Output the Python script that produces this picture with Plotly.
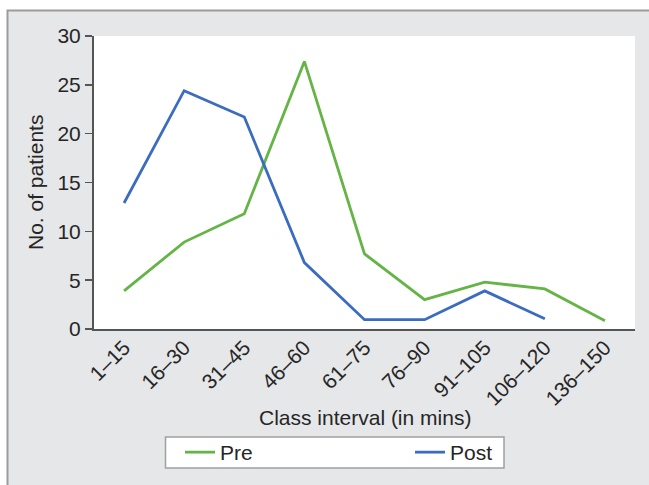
import plotly.graph_objects as go

categories = ["1–15", "16–30", "31–45", "46–60", "61–75", "76–90", "91–105", "106–120", "136–150"]
pre = [3.9, 8.9, 11.8, 27.4, 7.7, 3.0, 4.8, 4.1, 0.85]
post = [12.9, 24.4, 21.7, 6.8, 0.95, 0.95, 3.9, 1.05, None]

FONT = "Liberation Sans, Arial, sans-serif"
TXT = "#262626"
FS = 21

fig = go.Figure()
fig.add_trace(go.Scatter(x=categories, y=pre, mode="lines", name="Pre",
                         line=dict(color="#64b446", width=2.8), legend="legend"))
fig.add_trace(go.Scatter(x=categories, y=post, mode="lines", name="Post",
                         line=dict(color="#3a6cbf", width=2.8), legend="legend2"))

W, H = 649, 485
L, R, T, B = 94, 14, 36, 156
pw, ph = W - L - R, H - T - B

def px_x(p):
    return (p - L) / pw

def px_y(p):
    return (H - B - p) / ph

# outer grey frame
fig.add_shape(type="rect", xref="paper", yref="paper",
              x0=px_x(7.5), x1=px_x(660), y0=px_y(10.5), y1=px_y(500),
              fillcolor="#e6e7e9", line=dict(color="#9c9c9c", width=2), layer="below")
# white plot area
fig.add_shape(type="rect", xref="paper", yref="paper",
              x0=0, x1=1, y0=0, y1=1,
              fillcolor="white", line=dict(width=0), layer="below")
# legend box
fig.add_shape(type="rect", xref="paper", yref="paper",
              x0=px_x(165.5), x1=px_x(504), y0=px_y(437), y1=px_y(468),
              fillcolor="white", line=dict(color="#a0a0a0", width=1.5), layer="above")

leg_common = dict(orientation="h", yanchor="middle", xanchor="left",
                  bgcolor="rgba(0,0,0,0)", borderwidth=0,
                  font=dict(family=FONT, size=FS, color=TXT), itemclick=False,
                  itemdoubleclick=False)

fig.add_annotation(text="Class interval (in mins)", xref="paper", yref="paper",
                   x=px_x(365), y=px_y(417), xanchor="center", yanchor="middle",
                   showarrow=False, font=dict(family=FONT, size=FS, color=TXT))
fig.add_annotation(text="No. of patients", xref="paper", yref="paper",
                   x=px_x(35), y=px_y(183), xanchor="center", yanchor="middle",
                   textangle=-90, showarrow=False,
                   font=dict(family=FONT, size=FS, color=TXT))

fig.update_layout(
    width=W, height=H,
    margin=dict(l=L, r=R, t=T, b=B),
    paper_bgcolor="white", plot_bgcolor="white",
    font=dict(family=FONT, size=FS, color=TXT),
    showlegend=True,
    legend=dict(x=px_x(180), y=px_y(452.5), **leg_common),
    legend2=dict(x=px_x(410), y=px_y(452.5), **leg_common),
    xaxis=dict(type="category", range=[-0.5, 8.5], showgrid=False, zeroline=False,
               showline=True, linecolor="#555555", linewidth=2, ticks="",
               tickangle=-45, tickfont=dict(size=FS, color=TXT), automargin=False,
               ticklabelstandoff=-4),
    yaxis=dict(range=[0, 30], dtick=5, showgrid=False, zeroline=False,
               showline=True, linecolor="#555555", linewidth=2,
               ticks="outside", ticklen=7, tickwidth=1.5, tickcolor="#555555",
               tickfont=dict(size=FS, color=TXT), automargin=False),
)

fig.write_html("out.html", post_script="document.body.style.margin='0';",
               config={"displayModeBar": False, "staticPlot": True})
